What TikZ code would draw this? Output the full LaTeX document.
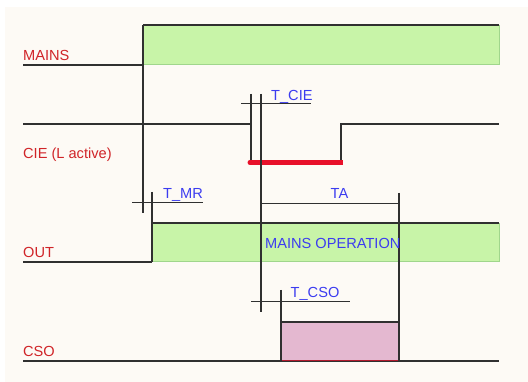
\documentclass[tikz,border=0pt]{standalone}
\usepackage{fontspec}
\setmainfont{Liberation Sans}
\definecolor{bgc}{RGB}{253,250,245}
\definecolor{greenf}{RGB}{200,244,168}
\definecolor{greenb}{RGB}{160,214,140}
\definecolor{pinkf}{RGB}{228,184,208}
\definecolor{redbar}{RGB}{232,16,42}
\definecolor{labred}{RGB}{208,36,40}
\definecolor{labblue}{RGB}{60,60,240}
\definecolor{dark}{RGB}{48,48,48}
\begin{document}
\begin{tikzpicture}[x=1pt,y=-1pt,
  ln/.style={draw=dark,line width=1.1pt},
  topb/.style={draw=dark,line width=1.6pt},
  gb/.style={draw=greenb,line width=1pt},
  sig/.style={anchor=base west,inner sep=0pt,text=labred,font=\fontsize{14.6}{16}\selectfont},
  tlab/.style={anchor=base west,inner sep=0pt,text=labblue,font=\fontsize{14.6}{16}\selectfont}]
\useasboundingbox (0,0) rectangle (528,382);
\fill[white] (0,0) rectangle (528,382);
\fill[bgc] (5,7) rectangle (528,382);
% fills
\fill[greenf] (143,25) rectangle (499,65);
\fill[greenf] (152,223) rectangle (499,262);
\fill[pinkf] (281,322) rectangle (399,361);
% box borders
\draw[gb] (143,65) -- (499,65) -- (499,25);
\draw[gb] (152,262) -- (499,262) -- (499,223);
\draw[topb] (143,25) -- (499,25);
\draw[topb] (152,223) -- (499,223);
\draw[topb] (281,322) -- (399,322);
% MAINS
\draw[ln] (23,65) -- (143,65);
\draw[ln] (143,25) -- (143,213);
% CIE
\draw[ln] (23,124) -- (251,124);
\draw[ln] (251,94) -- (251,162);
\draw[ln] (341,162) -- (341,124) -- (499,124);
\draw[redbar,line width=5pt] (250,162.5) -- (343,162.5);
\fill[redbar] (250,162.5) circle (2.5);
\draw[ln] (241,103.5) -- (311,103.5);
\draw[ln] (261,94) -- (261,312);
% OUT
\draw[ln] (132,202.7) -- (203,202.7);
\draw[ln] (152,192) -- (152,262);
\draw[ln] (23,262) -- (152,262);
\draw[ln] (261,203.3) -- (399,203.3);
\draw[ln] (399,193) -- (399,361);
% CSO
\draw[ln] (251,301.5) -- (350,301.5);
\draw[ln] (281,290) -- (281,361);
\draw[ln] (23,361) -- (499,361);
\draw[redbar!70!dark,line width=0.5pt] (282,360.4) -- (398,360.4);
% labels
\node[sig] (lmains) at (23,60.5) {MAINS};
\node[sig] (lcie) at (23,159) {CIE (L active)};
\node[sig] (lout) at (23,257.5) {OUT};
\node[sig] (lcso) at (23,356.5) {CSO};
\node[tlab] (ttcie) at (271,100.5) {T\_CIE};
\node[tlab] (ttmr) at (163,199) {T\_MR};
\node[tlab,anchor=base] (tta) at (339.5,198.5) {TA};
\node[tlab] (ttcso) at (290.5,297.3) {T\_CSO};
\node[tlab] (tmo) at (265,248.3) {MAINS OPERATION};
\end{tikzpicture}
\end{document}
